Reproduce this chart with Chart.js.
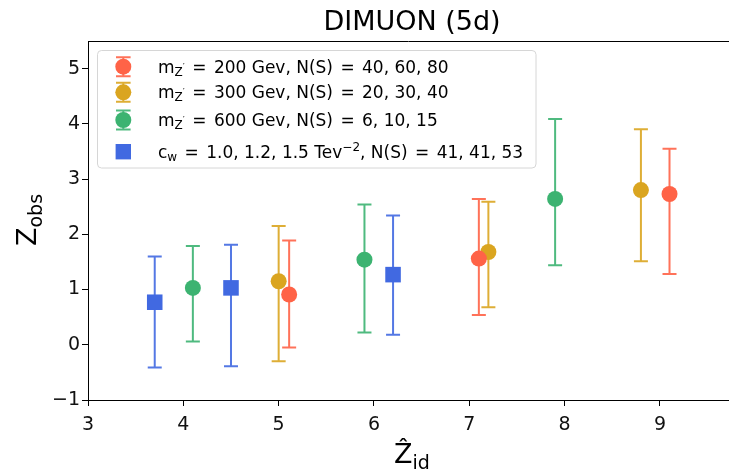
<!DOCTYPE html>
<html>
<head>
<meta charset="utf-8">
<script src="https://cdn.jsdelivr.net/npm/chart.js@4.4.1/dist/chart.umd.min.js"></script>
<style>
  html, body { margin: 0; padding: 0; background: #fff; }
  #wrap { width: 729px; height: 475px; position: relative; }
</style>
</head>
<body>
<div id="wrap"><canvas id="chart"></canvas></div>
<script>
// values
const xTicks = [3, 4, 5, 6, 7, 8, 9];
const yTicks = [-1, 0, 1, 2, 3, 4, 5];

const redX = [5.11, 7.1, 9.1];
const redY = [0.91, 1.56, 2.73];
const redLo = [-0.05, 0.54, 1.28];
const redHi = [1.89, 2.64, 3.55];

const goldX = [5.0, 7.2, 8.8];
const goldY = [1.15, 1.68, 2.8];
const goldLo = [-0.3, 0.68, 1.51];
const goldHi = [2.15, 2.59, 3.9];

const greenX = [4.1, 5.9, 7.9];
const greenY = [1.03, 1.54, 2.64];
const greenLo = [0.06, 0.22, 1.44];
const greenHi = [1.79, 2.54, 4.09];

const blueX = [3.7, 4.5, 6.2];
const blueY = [0.77, 1.03, 1.27];
const blueLo = [-0.41, -0.39, 0.18];
const blueHi = [1.6, 1.81, 2.34];

const FONT = "'DejaVu Sans', sans-serif";

function pts(xs, ys) {
    return xs.map((x, i) => ({ x: x, y: ys[i] }));
}

// legend labels as [text, size, dy] ; a number is an extra gap in px
const legendRows = [
    { color: '#ff6347', style: 'circle', parts: [['m', 17, 0], ['Z', 12, 3], ['\u2032', 9, -3], 2, [' = ', 17, 0], 2, ['200 Gev, N(S)', 17, 0], 2, [' = ', 17, 0], 2, ['40, 60, 80', 17, 0]] },
    { color: '#daa520', style: 'circle', parts: [['m', 17, 0], ['Z', 12, 3], ['\u2032', 9, -3], 2, [' = ', 17, 0], 2, ['300 Gev, N(S)', 17, 0], 2, [' = ', 17, 0], 2, ['20, 30, 40', 17, 0]] },
    { color: '#3cb371', style: 'circle', parts: [['m', 17, 0], ['Z', 12, 3], ['\u2032', 9, -3], 2, [' = ', 17, 0], 2, ['600 Gev, N(S)', 17, 0], 2, [' = ', 17, 0], 2, ['6, 10, 15', 17, 0]] },
    { color: '#4169e1', style: 'rect', parts: [['c', 17, 0], ['w', 12, 3], 2, [' = ', 17, 0], 2, ['1.0, 1.2, 1.5 Tev', 17, 0], ['\u22122', 12, -7], [', N(S)', 17, 0], 2, [' = ', 17, 0], 2, ['41, 41, 53', 17, 0]] },
];

function drawParts(ctx, parts, x, y) {
    parts.forEach((p) => {
        if (typeof p === 'number') { x += p; return; }
        ctx.font = p[1] + 'px ' + FONT;
        ctx.fillText(p[0], x, y + p[2]);
        x += ctx.measureText(p[0]).width;
    });
}

const errorBars = {
    id: 'errorBars',
    beforeDatasetsDraw(chart) {
        const ctx = chart.ctx;
        const xs = chart.scales.x;
        const ys = chart.scales.y;
        ctx.save();
        chart.data.datasets.forEach((ds) => {
            ctx.strokeStyle = ds.backgroundColor;
            ctx.globalAlpha = 0.9;
            ctx.lineWidth = 2;
            ds.data.forEach((p, i) => {
                const px = xs.getPixelForValue(p.x);
                const lo = ys.getPixelForValue(ds.errLo[i]);
                const hi = ys.getPixelForValue(ds.errHi[i]);
                ctx.beginPath();
                ctx.moveTo(px, lo);
                ctx.lineTo(px, hi);
                ctx.moveTo(px - 7, lo);
                ctx.lineTo(px + 7, lo);
                ctx.moveTo(px - 7, hi);
                ctx.lineTo(px + 7, hi);
                ctx.stroke();
            });
        });
        ctx.restore();
    },
    afterDraw(chart) {
        const ctx = chart.ctx;
        const a = chart.chartArea;
        ctx.save();
        // top spine
        ctx.strokeStyle = '#000';
        ctx.lineWidth = 1;
        ctx.beginPath();
        ctx.moveTo(a.left, a.top + 0.5);
        ctx.lineTo(chart.width, a.top + 0.5);
        ctx.stroke();

        ctx.fillStyle = '#000';
        ctx.textBaseline = 'alphabetic';
        // title
        ctx.font = '27px ' + FONT;
        ctx.textAlign = 'center';
        ctx.fillText('DIMUON (5d)', 412, 30);

        // x label
        ctx.textAlign = 'left';
        ctx.font = '27px ' + FONT;
        const zw = ctx.measureText('\u1E90').width;
        ctx.font = '19px ' + FONT;
        const idw = ctx.measureText('id').width;
        drawParts(ctx, [['\u1E90', 27, 0], ['id', 19, 6]], 412 - (zw + idw) / 2, 463);

        // y label
        ctx.save();
        ctx.translate(36, 220);
        ctx.rotate(-Math.PI / 2);
        ctx.font = '27px ' + FONT;
        const zw2 = ctx.measureText('Z').width;
        ctx.font = '19px ' + FONT;
        const obw = ctx.measureText('obs').width;
        drawParts(ctx, [['Z', 27, 0], ['obs', 19, 6]], -(zw2 + obw) / 2, 0);
        ctx.restore();

        // legend
        ctx.globalAlpha = 0.8;
        ctx.fillStyle = '#fff';
        ctx.strokeStyle = '#d6d6d6';
        ctx.beginPath();
        ctx.roundRect(97.5, 50.5, 438.5, 117.5, 4);
        ctx.fill();
        ctx.globalAlpha = 1;
        ctx.stroke();
        const rowY = [66.7, 92.3, 120, 151.7];
        legendRows.forEach((r, i) => {
            const cy = rowY[i];
            ctx.fillStyle = r.color;
            ctx.strokeStyle = r.color;
            ctx.lineWidth = 2;
            if (r.style === 'circle') {
                ctx.globalAlpha = 0.9;
                ctx.beginPath();
                ctx.moveTo(123.3, cy - 9.5);
                ctx.lineTo(123.3, cy + 9.5);
                ctx.moveTo(116, cy - 9.5);
                ctx.lineTo(130.6, cy - 9.5);
                ctx.moveTo(116, cy + 9.5);
                ctx.lineTo(130.6, cy + 9.5);
                ctx.stroke();
                ctx.globalAlpha = 1;
                ctx.beginPath();
                ctx.arc(123.3, cy, 8, 0, Math.PI * 2);
                ctx.fill();
            } else {
                ctx.fillRect(123.3 - 7.7, cy - 7.7, 15.4, 15.4);
            }
            ctx.fillStyle = '#000';
            drawParts(ctx, r.parts, 158, cy + 6);
        });
        ctx.restore();
    },
};

function makeSet(xs, ys, lo, hi, color, style) {
    return {
        data: pts(xs, ys),
        errLo: lo,
        errHi: hi,
        backgroundColor: color,
        borderColor: color,
        borderWidth: 0,
        pointStyle: style,
        pointRadius: style === 'rect' ? 11 : 8,
        pointHoverRadius: style === 'rect' ? 11 : 8,
    };
}

const tickFont = { family: 'DejaVu Sans', size: 19 };

new Chart(document.getElementById('chart'), {
    type: 'scatter',
    data: {
        datasets: [
            makeSet(redX, redY, redLo, redHi, '#ff6347', 'circle'),
            makeSet(goldX, goldY, goldLo, goldHi, '#daa520', 'circle'),
            makeSet(greenX, greenY, greenLo, greenHi, '#3cb371', 'circle'),
            makeSet(blueX, blueY, blueLo, blueHi, '#4169e1', 'rect'),
        ],
    },
    options: {
        responsive: true,
        maintainAspectRatio: false,
        animation: false,
        layout: { autoPadding: false, padding: { top: 41, left: 0, right: 0, bottom: 0 } },
        plugins: { legend: { display: false }, tooltip: { enabled: false } },
        scales: {
            x: {
                type: 'linear',
                min: 3,
                max: 9.724,
                afterFit: (s) => { s.height = 75; s.paddingLeft = 0; s.paddingRight = 0; },
                afterBuildTicks: (s) => { s.ticks = xTicks.map((v) => ({ value: v })); },
                grid: { drawOnChartArea: false, drawTicks: true, tickLength: 6, tickColor: '#000' },
                border: { display: true, color: '#000', width: 1 },
                ticks: { font: tickFont, color: '#111', padding: 8, maxRotation: 0 },
            },
            y: {
                type: 'linear',
                min: -1,
                max: 5.5,
                afterFit: (s) => { s.width = 88; s.paddingTop = 0; s.paddingBottom = 0; },
                afterBuildTicks: (s) => { s.ticks = yTicks.map((v) => ({ value: v })); },
                grid: { drawOnChartArea: false, drawTicks: true, tickLength: 6, tickColor: '#000' },
                border: { display: true, color: '#000', width: 1 },
                ticks: {
                    font: tickFont,
                    color: '#111',
                    padding: 2,
                    callback: (v) => String(v).replace('-', '\u2212'),
                },
            },
        },
    },
    plugins: [errorBars],
});
</script>
</body>
</html>
